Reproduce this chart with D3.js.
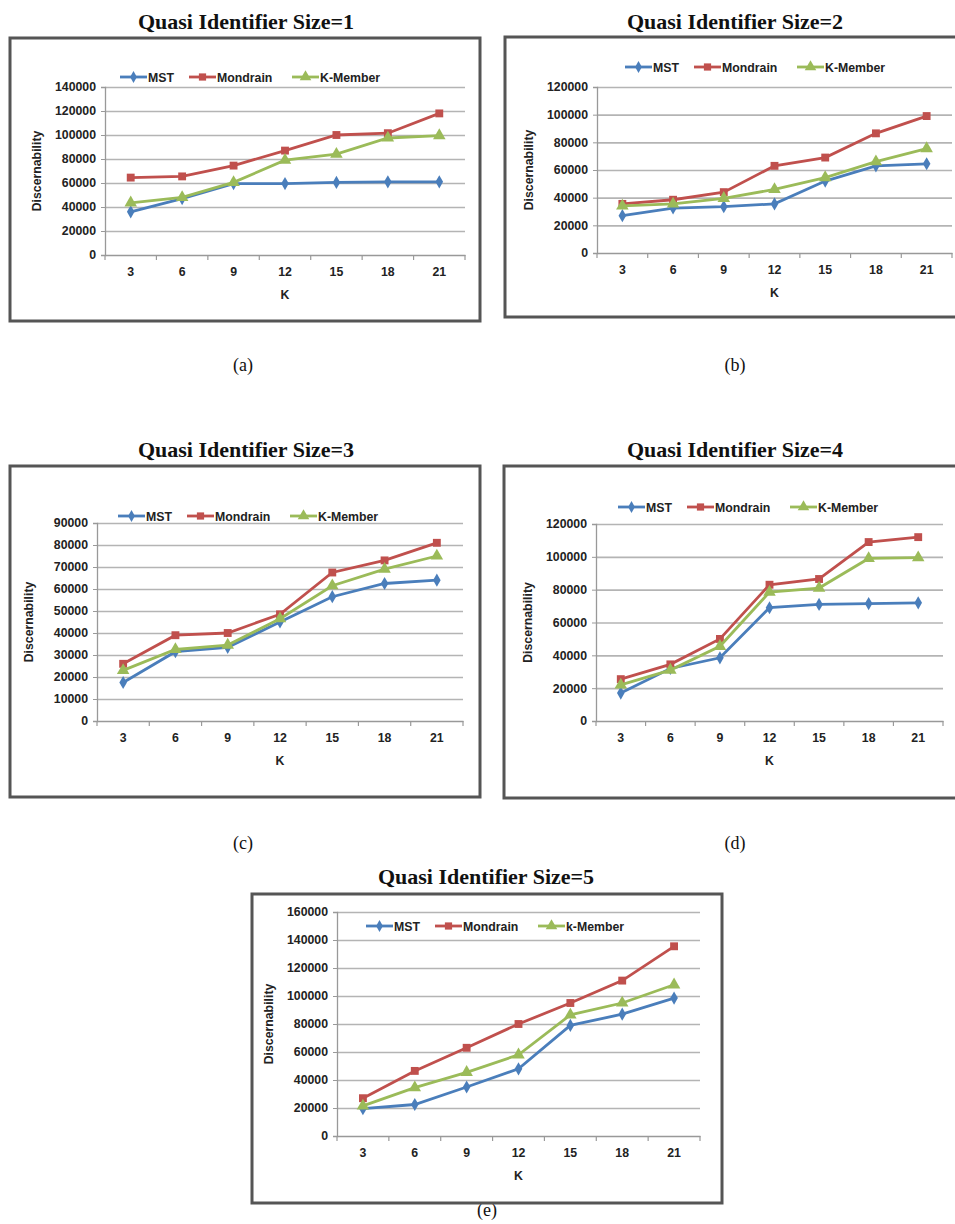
<!DOCTYPE html>
<html>
<head>
<meta charset="utf-8">
<script src="https://cdn.jsdelivr.net/npm/d3@7"></script>
<style>
  body { margin: 0; background: #fff; }
  svg { display: block; }
</style>
</head>
<body>
<div id="chart"></div>
<script>
// categories (K values)
const kValues = [3, 6, 9, 12, 15, 18, 21];
const seriesNames = ["MST", "Mondrain", "K-Member"];
const seriesNamesE = ["MST", "Mondrain", "k-Member"];

// Discernability per panel
const mst1 = [36000, 47000, 59500, 59500, 60500, 61000, 61000];
const mondrain1 = [64500, 65500, 74500, 87000, 100000, 101500, 118000];
const kmember1 = [43500, 48000, 60500, 79000, 84000, 97500, 99500];

const mst2 = [27000, 32500, 33500, 35500, 52000, 63000, 64500];
const mondrain2 = [35500, 38500, 44000, 63000, 69000, 86500, 99000];
const kmember2 = [34000, 35500, 39500, 46000, 54500, 66000, 75500];

const mst3 = [17500, 31500, 33500, 45000, 56500, 62500, 64000];
const mondrain3 = [26000, 39000, 40000, 48500, 67500, 73000, 81000];
const kmember3 = [23000, 32500, 34500, 46500, 61500, 69000, 75000];

const mst4 = [17000, 32000, 38500, 69000, 71000, 71500, 72000];
const mondrain4 = [25500, 34500, 50000, 83000, 86500, 109000, 112000];
const kmember4 = [22000, 31000, 45500, 78500, 81000, 99000, 99500];

const mst5 = [19500, 22500, 35000, 48000, 79000, 87000, 98500];
const mondrain5 = [27000, 46500, 63000, 80000, 95000, 111000, 135500];
const kmember5 = [21500, 34500, 45500, 58000, 86500, 95000, 108000];

// y tick labels
const yTicks1 = [0, 20000, 40000, 60000, 80000, 100000, 120000, 140000];
const yTicks2 = [0, 20000, 40000, 60000, 80000, 100000, 120000];
const yTicks3 = [0, 10000, 20000, 30000, 40000, 50000, 60000, 70000, 80000, 90000];
const yTicks4 = [0, 20000, 40000, 60000, 80000, 100000, 120000];
const yTicks5 = [0, 20000, 40000, 60000, 80000, 100000, 120000, 140000, 160000];

const colors = ["#4a7ebb", "#c0504d", "#9bbb59"];
const symbols = [d3.symbolDiamond, d3.symbolSquare, d3.symbolTriangle];
const markerSizes = [50, 62, 68];

const panels = [
  { title: "Quasi Identifier Size=1", caption: "(a)", series: [mst1, mondrain1, kmember1], names: seriesNames, ticks: yTicks1,
    frame: [10, 38, 480, 321], plot: [105, 87, 465, 255], titleX: 246, titleY: 29, legendX: 120, legendY: 77, capX: 243, capY: 371 },
  { title: "Quasi Identifier Size=2", caption: "(b)", series: [mst2, mondrain2, kmember2], names: seriesNames, ticks: yTicks2,
    frame: [505, 37, 962, 317], plot: [597, 87, 952, 253], titleX: 735, titleY: 29, legendX: 625, legendY: 67, capX: 735, capY: 371 },
  { title: "Quasi Identifier Size=3", caption: "(c)", series: [mst3, mondrain3, kmember3], names: seriesNames, ticks: yTicks3,
    frame: [10, 466, 480, 797], plot: [97, 523, 463, 721], titleX: 246, titleY: 457, legendX: 118, legendY: 516, capX: 243, capY: 849 },
  { title: "Quasi Identifier Size=4", caption: "(d)", series: [mst4, mondrain4, kmember4], names: seriesNames, ticks: yTicks4,
    frame: [504, 466, 962, 798], plot: [596, 524, 943, 721], titleX: 735, titleY: 457, legendX: 618, legendY: 507, capX: 735, capY: 849 },
  { title: "Quasi Identifier Size=5", caption: "(e)", series: [mst5, mondrain5, kmember5], names: seriesNamesE, ticks: yTicks5,
    frame: [252, 894, 722, 1203], plot: [337, 912, 700, 1136], titleX: 486, titleY: 884, legendX: 366, legendY: 926, capX: 487, capY: 1216 }
];

const svg = d3.select("#chart")
  .append("svg")
  .attr("width", 955)
  .attr("height", 1224);

const labelFont = "'Liberation Sans', Arial, sans-serif";
const serifFont = "'Liberation Serif', 'Times New Roman', serif";
const labelSize = "12.3px";

panels.forEach(p => drawPanel(p));

function drawPanel(p) {
  const [fx0, fy0, fx1, fy1] = p.frame;
  const [px0, py0, px1, py1] = p.plot;
  const g = svg.append("g");

  // title + caption
  g.append("text")
    .attr("x", p.titleX).attr("y", p.titleY)
    .attr("text-anchor", "middle")
    .attr("font-family", serifFont)
    .attr("font-weight", "bold")
    .attr("font-size", "22px")
    .attr("fill", "#111")
    .text(p.title);

  g.append("text")
    .attr("x", p.capX).attr("y", p.capY)
    .attr("text-anchor", "middle")
    .attr("font-family", serifFont)
    .attr("font-size", "18px")
    .attr("fill", "#111")
    .text(p.caption);

  // frame
  g.append("rect")
    .attr("x", fx0).attr("y", fy0)
    .attr("width", fx1 - fx0).attr("height", fy1 - fy0)
    .attr("fill", "#fff")
    .attr("stroke", "#555")
    .attr("stroke-width", 3);

  const x = d3.scaleBand().domain(kValues).range([px0, px1]);
  const y = d3.scaleLinear().domain([0, d3.max(p.ticks)]).range([py1, py0]);

  // gridlines
  g.append("g")
    .attr("transform", `translate(${px0},0)`)
    .call(d3.axisLeft(y).tickValues(p.ticks.slice(1)).tickSize(-(px1 - px0)).tickFormat(""))
    .call(a => a.select(".domain").remove())
    .call(a => a.selectAll("line").attr("stroke", "#b4b4b4").attr("stroke-width", 1.6));

  // y axis
  g.append("g")
    .attr("transform", `translate(${px0},0)`)
    .call(d3.axisLeft(y).tickValues(p.ticks).tickSize(4).tickPadding(5).tickFormat(d3.format("d")))
    .call(a => a.select(".domain").attr("stroke", "#999").attr("stroke-width", 1.3))
    .call(a => a.selectAll("line").attr("stroke", "#999"))
    .call(a => a.selectAll("text")
      .attr("font-family", labelFont)
      .attr("font-weight", "bold")
      .attr("font-size", labelSize)
      .attr("fill", "#222"));

  // x axis (labels centred in bands, ticks between bands)
  g.append("g")
    .attr("transform", `translate(0,${py1})`)
    .call(d3.axisBottom(x).tickSize(0).tickPadding(12))
    .call(a => a.select(".domain").attr("stroke", "#999").attr("stroke-width", 1.3))
    .call(a => a.selectAll("text")
      .attr("font-family", labelFont)
      .attr("font-weight", "bold")
      .attr("font-size", labelSize)
      .attr("fill", "#222"));

  g.append("g")
    .selectAll("line")
    .data(kValues.map(k => x(k)).concat([px1]))
    .enter()
    .append("line")
    .attr("x1", d => d).attr("x2", d => d)
    .attr("y1", py1).attr("y2", py1 + 5)
    .attr("stroke", "#999")
    .attr("stroke-width", 1.2);

  // axis titles
  g.append("text")
    .attr("x", (px0 + px1) / 2).attr("y", py1 + 44)
    .attr("text-anchor", "middle")
    .attr("font-family", labelFont)
    .attr("font-weight", "bold")
    .attr("font-size", labelSize)
    .attr("fill", "#222")
    .text("K");

  g.append("text")
    .attr("transform", `translate(${px0 - 64},${(py0 + py1) / 2}) rotate(-90)`)
    .attr("text-anchor", "middle")
    .attr("font-family", labelFont)
    .attr("font-weight", "bold")
    .attr("font-size", labelSize)
    .attr("fill", "#222")
    .text("Discernability");

  // series lines + markers
  const cx = k => x(k) + x.bandwidth() / 2;
  const line = d3.line()
    .x((d, i) => cx(kValues[i]))
    .y(d => y(d));

  p.series.forEach((vals, si) => {
    g.append("path")
      .datum(vals)
      .attr("d", line)
      .attr("fill", "none")
      .attr("stroke", colors[si])
      .attr("stroke-width", 2.8);

    g.append("g")
      .selectAll("path")
      .data(vals)
      .enter()
      .append("path")
      .attr("transform", (d, i) => `translate(${cx(kValues[i])},${y(d)})`)
      .attr("d", d3.symbol().type(symbols[si]).size(markerSizes[si]))
      .attr("fill", colors[si]);
  });

  // legend
  const lg = g.append("g").attr("transform", `translate(${p.legendX},${p.legendY})`);
  const legendOffsets = [0, 69, 172];
  p.names.forEach((name, si) => {
    const item = lg.append("g").attr("transform", `translate(${legendOffsets[si]},0)`);
    item.append("line")
      .attr("x1", 0).attr("x2", 27)
      .attr("stroke", colors[si])
      .attr("stroke-width", 2.8);
    item.append("path")
      .attr("transform", "translate(13.5,0)")
      .attr("d", d3.symbol().type(symbols[si]).size(markerSizes[si] - 10))
      .attr("fill", colors[si]);
    item.append("text")
      .attr("x", 28).attr("y", 4.5)
      .attr("font-family", labelFont)
      .attr("font-weight", "bold")
      .attr("font-size", labelSize)
      .attr("fill", "#222")
      .text(name);
  });
}
</script>
</body>
</html>
